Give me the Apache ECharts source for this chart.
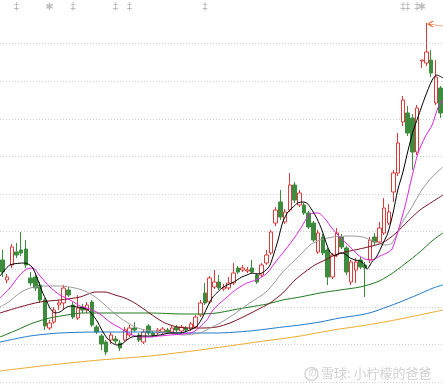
<!DOCTYPE html>
<html>
<head>
<meta charset="utf-8">
<style>html,body{margin:0;padding:0;background:#fff;}#c{width:443px;height:387px;}</style>
<script src="https://cdn.jsdelivr.net/npm/echarts@6/dist/echarts.min.js"></script>
</head>
<body>
<div id="c"></div>
<script>
// Daily candles: [open, close, low, high] (price units)
const ohlc = [
[122,110,105,132],[102,105,99,108],[117,135,114,138],[130,127,124,139],[132,129,126,150],
[133,117,114,142],[104,99,96,110],[105,94,91,108],[97,82,79,100],[82,56,52,84],
[54,59,52,62],[60,72,58,75],[77,79,72,82],[79,94,72,97],[92,87,85,95],
[77,65,63,80],[64,74,62,87],[75,72,69,78],[72,77,69,80],[80,57,55,82],
[55,50,48,57],[46,38,32,48],[40,30,27,42],[42,47,38,50],[43,41,38,46],
[39,34,31,42],[42,52,40,55],[47,54,45,57],[54,52,50,60],[47,42,40,49],
[40,50,38,53],[56,49,47,58],[49,47,45,51],[49,52,47,54],[50,53,48,55],
[52,50,48,54],[50,54,48,56],[55,52,50,57],[51,55,49,57],[54,52,50,56],
[53,58,51,60],[55,65,54,67],[67,79,65,82],[89,79,77,99],[80,104,78,106],
[95,100,93,112],[100,94,92,107],[93,95,91,98],[94,99,92,105],[99,109,97,119],
[114,110,108,116],[112,114,110,117],[111,112,109,115],[114,110,108,122],[107,100,98,109],
[107,117,105,119],[119,127,117,132],[129,150,127,152],[159,172,156,175],[180,165,162,192],
[160,170,158,173],[172,197,170,209],[197,182,179,200],[177,189,175,192],[177,169,167,179],
[169,155,153,171],[159,142,140,161],[130,149,128,152],[145,129,127,148],[132,105,97,134],
[105,127,103,129],[127,149,125,154],[145,135,133,148],[134,110,107,136],[100,120,97,122],
[112,120,99,124],[122,115,113,125],[117,114,85,120],[122,142,119,145],[145,140,137,149],
[140,154,138,160],[149,174,147,184],[159,170,157,178],[190,209,180,212],[209,239,206,249],
[260,282,256,286],[269,249,246,276],[264,230,212,268],[230,274,227,277],[321,322,314,322],
[319,330,316,359],[322,309,305,332],[279,305,277,322],[294,269,264,296]
];
const categories = ohlc.map((d, i) => String(i));

// Moving averages: [candle index, value]
const ma5 = [[-0.5,106],[1.6,117],[4.8,119],[6.3,115],[7.3,105],[8.4,91],[9.5,80],[10.1,74],[11.2,69],[12.2,70],[13.7,75],[14.8,76],[15.8,75],[17.1,74],[18.2,72],[19.0,68],[20.1,61],[21.1,52],[22.2,44],[23.3,39],[24.3,37],[25.4,38],[26.4,42],[27.5,45],[29.2,46],[31.3,46],[33.4,47],[35.6,49],[37.7,49],[39.8,52],[41.3,56],[42.4,64],[43.4,74],[44.5,84],[45.5,89],[46.6,94],[47.7,97],[48.7,99],[49.8,102],[50.8,105],[51.9,107],[53.0,109],[54.0,108],[55.1,109],[56.2,113],[56.8,117],[57.4,125],[58.5,142],[59.5,160],[60.6,170],[61.7,175],[62.7,179],[63.8,180],[64.6,179],[65.7,172],[66.8,163],[67.8,152],[68.5,142],[69.5,130],[70.6,126],[71.6,129],[72.7,128],[73.8,124],[74.8,122],[75.9,121],[76.7,118],[77.4,113],[78.4,120],[79.5,126],[80.8,139],[81.8,149],[82.9,169],[83.9,192],[85.0,210],[86.1,232],[87.1,250],[88.2,265],[89.7,285],[91.2,302],[92.2,307],[93.5,304]];
const ma10 = [[-0.5,84],[1.6,94],[3.7,107],[5.2,113],[6.5,114],[8.0,106],[10.1,95],[12.2,87],[14.4,82],[16.5,76],[18.6,73],[20.7,68],[22.8,60],[25.0,54],[27.1,48],[29.2,45],[31.3,45],[33.4,46],[35.6,47],[38.3,48],[40.5,50],[41.9,55],[43.4,62],[44.7,72],[46.2,79],[47.7,85],[48.9,90],[50.4,95],[51.9,99],[53.2,101],[54.7,104],[56.2,109],[57.8,119],[60.0,132],[62.1,145],[63.6,156],[65.3,168],[67.0,169],[68.5,163],[69.9,154],[71.6,145],[73.8,135],[75.5,127],[76.9,123],[78.4,122],[80.1,126],[81.6,129],[82.7,133],[83.9,150],[85.4,175],[86.9,205],[88.2,229],[89.7,245],[91.2,257],[92.4,274],[93.5,282]];
const ma20 = [[-0.5,75],[1.6,81],[3.7,89],[5.9,94],[9.0,96],[12.2,96],[15.4,94],[17.5,91],[19.7,85],[21.8,77],[23.9,68],[26.0,61],[28.1,55],[30.3,52],[32.4,51],[35.6,49],[38.3,47],[41.9,49],[44.1,54],[46.2,59],[48.9,67],[52.5,79],[56.2,91],[59.5,110],[63.2,127],[65.3,137],[67.4,142],[70.2,145],[73.8,146],[76.5,145],[79.1,140],[81.2,137],[82.7,139],[84.8,159],[86.9,175],[89.0,192],[91.2,205],[93.5,215]];
const ma30 = [[-0.5,69],[3.7,75],[8.0,80],[12.2,82],[16.5,85],[19.7,90],[21.8,90],[23.9,87],[26.0,84],[28.1,79],[30.3,72],[32.4,65],[34.5,59],[37.1,55],[39.8,54],[42.6,54],[45.5,55],[48.3,59],[51.1,65],[54.0,72],[56.8,79],[59.5,89],[62.1,102],[64.2,110],[66.3,117],[68.5,122],[70.6,127],[72.7,130],[74.8,132],[77.6,135],[80.6,139],[83.3,148],[86.1,161],[88.6,172],[91.2,180],[93.5,187]];
const ma60 = [[-0.5,45],[3.1,52],[6.5,59],[10.1,64],[13.7,67],[17.1,69],[20.7,69],[31.3,69],[38.3,68],[41.9,68],[45.5,69],[48.9,72],[52.5,75],[56.2,78],[59.5,82],[63.2,85],[67.4,89],[71.6,92],[75.9,95],[79.5,100],[82.2,107],[85.4,118],[88.6,130],[91.4,142],[93.5,149]];
const ma120 = [[-0.5,40],[5.9,46],[12.2,49],[20.7,50],[31.3,50],[38.3,49],[45.5,49],[52.5,51],[59.5,55],[63.2,57],[67.4,60],[71.6,64],[75.9,67],[78.6,70],[81.6,75],[84.4,80],[88.0,87],[91.4,94],[93.5,97]];
const ma250 = [[-0.5,11],[10.1,17],[20.7,22],[31.3,26],[41.9,32],[52.5,39],[63.2,46],[70.2,52],[77.4,57],[84.4,63],[93.5,72]];

// Signal markers along the top: candle indices
const daggerIdx = [3, 15, 24, 27, 43, 85, 86, 88];
const starIdx = [10, 89];
const peakIdx = 90;

const markerLevel = 374.5;

const chart = echarts.init(document.getElementById('c'), null, {renderer: 'canvas'});

function maSeries(name, data, color) {
  return {
    name, type: 'line', xAxisIndex: 1, data, symbol: 'none', smooth: 0.25,
    lineStyle: {color, width: 1}, z: 3, silent: true
  };
}

const option = {
  animation: false,
  backgroundColor: '#ffffff',
  grid: {left: 0, right: 0, top: 6, bottom: 5},
  xAxis: [
    {type: 'category', data: categories, boundaryGap: true, show: false},
    {type: 'value', min: -0.5, max: categories.length - 0.5, show: false}
  ],
  yAxis: {
    type: 'value', min: 0, max: 376, interval: 37.6,
    axisLabel: {show: false}, axisLine: {show: false}, axisTick: {show: false},
    splitLine: {show: true, showMaxLine: false, lineStyle: {color: '#cfcfcf', type: [1, 2], width: 1}}
  },
  series: [
    {
      type: 'candlestick', data: ohlc, barWidth: 4, z: 2,
      itemStyle: {color: '#ffffff', color0: '#3d8c3d', borderColor: '#dc3c3c', borderColor0: '#3d8c3d', borderWidth: 1},
      markPoint: {
        silent: true,
        data: [{coord: [peakIdx, ohlc[peakIdx][3]]}],
        symbol: 'path://M0,3 L5,0 M0,3 L5,6 M0,3 L15,5',
        symbolSize: [15, 6], symbolOffset: [9, 1], symbolKeepAspect: false,
        itemStyle: {color: 'none', borderColor: '#e8692a', borderWidth: 1},
        label: {show: false}
      }
    },
    maSeries('MA250', ma250, '#eeaa30'),
    maSeries('MA120', ma120, '#1f7ac8'),
    maSeries('MA60', ma60, '#1f7a1f'),
    maSeries('MA30', ma30, '#7a1020'),
    maSeries('MA20', ma20, '#999999'),
    maSeries('MA10', ma10, '#e020e0'),
    maSeries('MA5', ma5, '#000000'),
    {
      type: 'scatter', data: daggerIdx.map(i => [i, markerLevel]), symbolSize: 0, silent: true, z: 4,
      label: {show: true, position: 'inside', formatter: '‡', color: '#a8a8a8', fontSize: 10, fontFamily: 'DejaVu Sans'}
    },
    {
      type: 'scatter', data: starIdx.map(i => [i, markerLevel]), symbolSize: 0, silent: true, z: 4,
      label: {show: true, position: 'inside', formatter: '✱', color: '#b0b0b0', fontSize: 10, fontFamily: 'DejaVu Sans'}
    }
  ],
  graphic: [
    {type: 'circle', shape: {cx: 311.5, cy: 374, r: 6.5}, style: {fill: 'none', stroke: '#d6d6d6', lineWidth: 1.5}, silent: true, z: 10},
    {type: 'text', x: 308, y: 368, style: {text: 'の', fill: '#d6d6d6', font: '9px "Noto Sans CJK SC"'}, silent: true, z: 10},
    {type: 'text', x: 321, y: 367, style: {text: '雪球: 小柠檬的爸爸', fill: '#d2d2d2', font: '13px "Noto Sans CJK SC"'}, silent: true, z: 10}
  ]
};
chart.setOption(option);
</script>
</body>
</html>
